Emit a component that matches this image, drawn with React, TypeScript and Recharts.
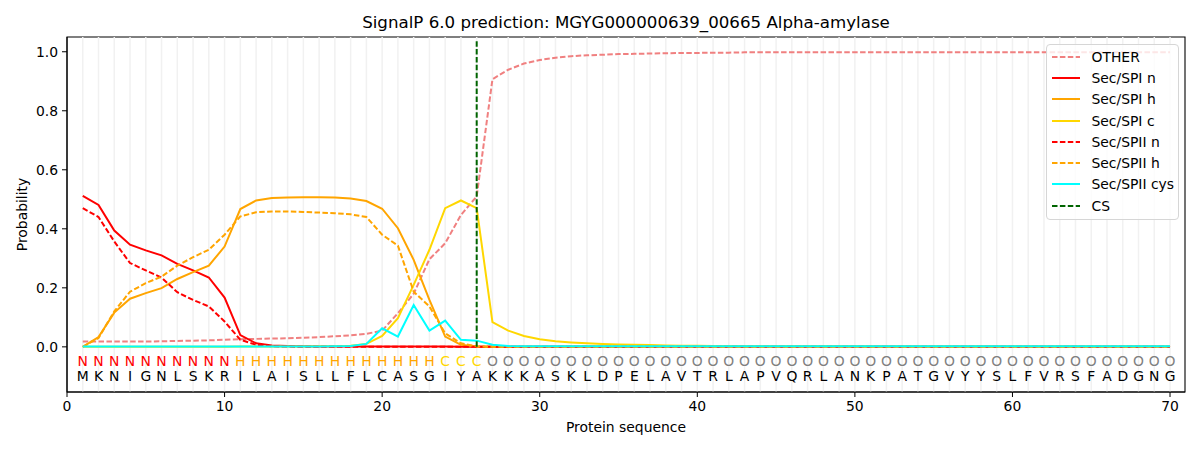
import React from 'react';
import { ComposedChart, Line, XAxis, YAxis, ReferenceLine, ReferenceArea, Legend } from 'recharts';

const sequence = 'MKNIGNLSKRILAISLLFLCASGIYAKKKASKLDPELAVTRLAPVQRLANKPATGVYYSLFVRSFADGNG'.split('');
const regionLabels = 'NNNNNNNNNNHHHHHHHHHHHHHCCCOOOOOOOOOOOOOOOOOOOOOOOOOOOOOOOOOOOOOOOOOOOO'.split('');

const other = [0.018,0.018,0.018,0.018,0.018,0.019,0.02,0.021,0.022,0.024,0.026,0.027,0.028,0.029,0.031,0.033,0.036,0.039,0.044,0.055,0.114,0.18,0.297,0.351,0.447,0.51,0.907,0.939,0.96,0.972,0.98,0.985,0.988,0.99,0.992,0.993,0.994,0.995,0.996,0.996,0.997,0.997,0.998,0.998,0.998,0.998,0.998,0.998,0.998,0.998,0.998,0.998,0.998,0.998,0.998,0.998,0.998,0.998,0.998,0.998,0.998,0.998,0.998,0.998,0.998,0.998,0.998,0.998,0.998,0.998];
const spiN = [0.512,0.481,0.394,0.346,0.327,0.31,0.281,0.259,0.235,0.167,0.04,0.012,0.005,0.003,0.002,0.001,0.001,0.001,0.001,0.001,0.001,0.001,0.001,0.001,0,0,0,0,0,0,0,0,0,0,0,0,0,0,0,0,0,0,0,0,0,0,0,0,0,0,0,0,0,0,0,0,0,0,0,0,0,0,0,0,0,0,0,0,0,0];
const spiH = [0,0.033,0.116,0.163,0.182,0.199,0.23,0.253,0.275,0.34,0.467,0.496,0.504,0.506,0.507,0.507,0.506,0.503,0.494,0.468,0.402,0.295,0.159,0.035,0.007,0.001,0,0,0,0,0,0,0,0,0,0,0,0,0,0,0,0,0,0,0,0,0,0,0,0,0,0,0,0,0,0,0,0,0,0,0,0,0,0,0,0,0,0,0,0];
const spiC = [0,0,0,0,0,0,0,0,0,0,0.001,0.001,0.001,0.001,0.001,0.002,0.002,0.004,0.01,0.037,0.097,0.21,0.329,0.47,0.496,0.47,0.084,0.055,0.037,0.026,0.019,0.015,0.012,0.01,0.008,0.007,0.006,0.005,0.004,0.004,0.003,0.003,0.002,0.002,0.002,0.002,0.002,0.002,0.002,0.002,0.001,0.001,0.001,0.001,0.001,0.001,0.001,0.001,0.001,0.001,0.001,0.001,0.001,0.001,0.001,0.001,0.001,0.001,0.001,0.001];
const spiiN = [0.47,0.44,0.357,0.284,0.259,0.235,0.185,0.159,0.137,0.086,0.024,0.007,0.002,0.001,0,0,0,0,0,0,0,0,0,0,0,0,0,0,0,0,0,0,0,0,0,0,0,0,0,0,0,0,0,0,0,0,0,0,0,0,0,0,0,0,0,0,0,0,0,0,0,0,0,0,0,0,0,0,0,0];
const spiiH = [0,0.03,0.12,0.187,0.216,0.238,0.275,0.304,0.329,0.38,0.442,0.456,0.459,0.459,0.457,0.455,0.453,0.449,0.44,0.38,0.343,0.187,0.137,0.046,0.012,0.002,0,0,0,0,0,0,0,0,0,0,0,0,0,0,0,0,0,0,0,0,0,0,0,0,0,0,0,0,0,0,0,0,0,0,0,0,0,0,0,0,0,0,0,0];
const spiiCys = [0.001,0.001,0.001,0.001,0.001,0.001,0.001,0.001,0.001,0.001,0.001,0.001,0.001,0.001,0.001,0.001,0.002,0.003,0.01,0.063,0.035,0.142,0.055,0.089,0.024,0.021,0.007,0.003,0.002,0.002,0.002,0.002,0.002,0.002,0.002,0.002,0.002,0.002,0.002,0.002,0.002,0.002,0.002,0.002,0.002,0.002,0.002,0.002,0.002,0.002,0.002,0.002,0.002,0.002,0.002,0.002,0.002,0.002,0.002,0.002,0.002,0.002,0.002,0.002,0.002,0.002,0.002,0.002,0.002,0.002];

const xTicks = [0, 10, 20, 30, 40, 50, 60, 70];
const yTicks = [0, 0.2, 0.4, 0.6, 0.8, 1.0];
const csPosition = 26;
const labelRowY = -0.047;
const seqRowY = -0.098;

const labelColors: Record<string, string> = { N: '#ff0000', H: '#ffa500', C: '#ffd700', O: '#808080' };

const table = sequence.map((aa, i) => ({
  pos: i + 1,
  aa,
  region: regionLabels[i],
  other: other[i],
  spiN: spiN[i],
  spiH: spiH[i],
  spiC: spiC[i],
  spiiN: spiiN[i],
  spiiH: spiiH[i],
  spiiCys: spiiCys[i],
}));

const FONT = '"DejaVu Sans", sans-serif';
const DASH = '5.5 2.4';

const legendItems = [
  { name: 'OTHER', color: '#f08080', dash: true },
  { name: 'Sec/SPI n', color: '#ff0000', dash: false },
  { name: 'Sec/SPI h', color: '#ffa500', dash: false },
  { name: 'Sec/SPI c', color: '#ffd700', dash: false },
  { name: 'Sec/SPII n', color: '#ff0000', dash: true },
  { name: 'Sec/SPII h', color: '#ffa500', dash: true },
  { name: 'Sec/SPII cys', color: '#00ffff', dash: false },
  { name: 'CS', color: '#006400', dash: true },
];

const LegendBox = () => (
  <div
    style={{
      border: '1px solid #d6d6d6',
      borderRadius: 4,
      background: 'rgba(255,255,255,0.8)',
      padding: '1px 8px 3px 5px',
      fontFamily: FONT,
      fontSize: 13.9,
      color: '#000',
      width: 118,
    }}
  >
    {legendItems.map((it) => (
      <div key={it.name} style={{ height: 21.3, display: 'flex', alignItems: 'center' }}>
        <svg width={28} height={10} style={{ marginRight: 11.5, flex: 'none' }}>
          <line x1={0} y1={5} x2={28} y2={5} stroke={it.color} strokeWidth={2} strokeDasharray={it.dash ? DASH : undefined} />
        </svg>
        <span style={{ whiteSpace: 'nowrap' }}>{it.name}</span>
      </div>
    ))}
  </div>
);

const letterDot = (row: 'aa' | 'region') => (props: any) => {
  const { cx, cy, payload, index } = props;
  if (cx == null || cy == null) return <g key={`${row}-${index}`} />;
  const ch = payload[row];
  const fill = row === 'aa' ? '#000' : labelColors[ch];
  return (
    <text
      key={`${row}-${index}`}
      x={cx}
      y={cy}
      textAnchor="middle"
      dominantBaseline="central"
      fontFamily={FONT}
      fontSize={13.9}
      fill={fill}
    >
      {ch}
    </text>
  );
};

export default function App() {
  return (
    <div style={{ position: 'absolute', left: 0, top: 0, width: 1200, height: 450, background: '#fff' }}>
      <div
        style={{
          position: 'absolute',
          left: 0,
          top: 13,
          width: 1252,
          textAlign: 'center',
          fontFamily: FONT,
          fontSize: 16.67,
          lineHeight: '20px',
          color: '#000',
          zIndex: 2,
        }}
      >
        SignalP 6.0 prediction: MGYG000000639_00665 Alpha-amylase
      </div>
      <ComposedChart width={1200} height={450} data={table} margin={{ top: 37, right: 15, bottom: 28, left: 0 }}>
        {table.map((r) => (
          <ReferenceLine key={`g${r.pos}`} x={r.pos} stroke="#f1f1f1" strokeWidth={1.5} ifOverflow="extendDomain" />
        ))}
        <XAxis
          dataKey="pos"
          type="number"
          domain={[0, 70.95]}
          ticks={xTicks}
          allowDataOverflow
          height={30}
          tickSize={5}
          tickMargin={4}
          stroke="#000"
          tick={{ fill: '#000', fontFamily: FONT, fontSize: 13.9 }}
          label={{
            content: () => (
              <text x={626} y={427} textAnchor="middle" dominantBaseline="central" fontFamily={FONT} fontSize={13.9} fill="#000">
                Protein sequence
              </text>
            ),
          }}
        />
        <YAxis
          type="number"
          domain={[-0.153, 1.05]}
          ticks={yTicks}
          allowDataOverflow
          width={67}
          tickSize={5}
          tickMargin={4}
          stroke="#000"
          tickFormatter={(v: number) => v.toFixed(1)}
          tick={{ fill: '#000', fontFamily: FONT, fontSize: 13.9 }}
          label={{
            content: () => (
              <text
                x={22}
                y={214.5}
                transform="rotate(-90 22 214.5)"
                textAnchor="middle"
                dominantBaseline="central"
                fontFamily={FONT}
                fontSize={13.9}
                fill="#000"
              >
                Probability
              </text>
            ),
          }}
        />
        <ReferenceArea x1={0} x2={70.95} y1={-0.153} y2={1.05} fill="none" stroke="#000" strokeWidth={1.1} ifOverflow="visible" />
        <Line dataKey="other" stroke="#f08080" strokeWidth={2} strokeDasharray={DASH} dot={false} activeDot={false} isAnimationActive={false} />
        <Line dataKey="spiN" stroke="#ff0000" strokeWidth={2} dot={false} activeDot={false} isAnimationActive={false} />
        <Line dataKey="spiH" stroke="#ffa500" strokeWidth={2} dot={false} activeDot={false} isAnimationActive={false} />
        <Line dataKey="spiC" stroke="#ffd700" strokeWidth={2} dot={false} activeDot={false} isAnimationActive={false} />
        <Line dataKey="spiiN" stroke="#ff0000" strokeWidth={2} strokeDasharray={DASH} dot={false} activeDot={false} isAnimationActive={false} />
        <Line dataKey="spiiH" stroke="#ffa500" strokeWidth={2} strokeDasharray={DASH} dot={false} activeDot={false} isAnimationActive={false} />
        <Line dataKey="spiiCys" stroke="#00ffff" strokeWidth={2} dot={false} activeDot={false} isAnimationActive={false} />
        <ReferenceLine
          segment={[{ x: csPosition, y: 0 }, { x: csPosition, y: 1.037 }]}
          stroke="#006400"
          strokeWidth={2}
          strokeDasharray={DASH}
          ifOverflow="visible"
        />
        <Line
          dataKey={() => labelRowY}
          stroke="none"
          dot={letterDot('region')}
          activeDot={false}
          legendType="none"
          isAnimationActive={false}
        />
        <Line
          dataKey={() => seqRowY}
          stroke="none"
          dot={letterDot('aa')}
          activeDot={false}
          legendType="none"
          isAnimationActive={false}
        />
        <Legend
          layout="vertical"
          align="center"
          verticalAlign="middle"
          content={() => <LegendBox />}
          wrapperStyle={{ position: 'absolute', top: 44, left: 1046, right: 'auto', width: 'auto', bottom: 'auto' }}
        />
      </ComposedChart>
    </div>
  );
}
